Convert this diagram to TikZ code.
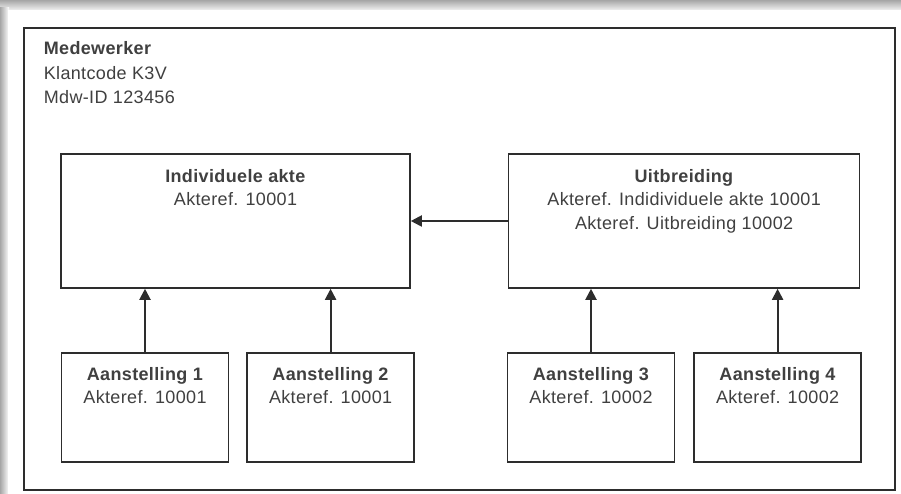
\documentclass[tikz,border=0pt]{standalone}
\usepackage{fontspec}
\setmainfont{Liberation Sans}[LetterSpace=2]
\usepackage{tikz}
\usetikzlibrary{positioning}
\usetikzlibrary{arrows.meta}
\definecolor{txtgray}{RGB}{64,64,64}
\definecolor{linegray}{RGB}{45,45,45}

\begin{document}
\begin{tikzpicture}[
            x=1pt, y=1pt,
            > = {Triangle[length=11pt,width=11pt]}, % arrow head style
            line width=1.6pt,
            every node/.style={text=txtgray, font=\fontsize{18}{23.5}\selectfont}
        ]

        \tikzstyle{box}=[
            draw = linegray,
            fill = white,
            inner sep = 0pt
        ]
        \tikzstyle{boxtext}=[
            align = center,
            inner sep = 0pt,
            anchor = north
        ]

        % page with the shadow of the screenshot
        \useasboundingbox (0,0) rectangle (901,494);
        \shade[top color=black!35, bottom color=white] (0,494) rectangle (901,482);
        \shade[left color=black!35, right color=white] (0,0) rectangle (9,486);
        \fill[white] (8,0) rectangle (901,484);

        \node[box, minimum width=871pt, minimum height=462pt] (MW) at (459.5,235) {};
        \node[anchor=north west, align=left, inner sep=0pt,
              font=\fontsize{18}{24.5}\selectfont] (MWtxt) at (43,453)
            {\textbf{Medewerker}\\Klantcode K3V\\Mdw-ID 123456};

       \node[box, minimum width=349pt, minimum height=134pt] (IA) at (235.5,273) {};
       \node[box, minimum width=351pt, minimum height=134pt] (UB) [right=97pt of IA] {};

       \node[box, minimum width=167pt, minimum height=109pt] (A1) at (145,86.5) {};
       \node[box, minimum width=167pt, minimum height=109pt] (A2) [right=17pt of A1] {};
       \node[box, minimum width=167pt, minimum height=109pt] (A3) at (591,86.5) {};
       \node[box, minimum width=167pt, minimum height=109pt] (A4) [right=18pt of A3] {};

       \node[boxtext] (IAtxt) [below=15pt of IA.north] {\textbf{Individuele akte}\\Akteref. 10001};
       \node[boxtext] (UBtxt) [below=15pt of UB.north] {\textbf{Uitbreiding}\\Akteref. Indidividuele akte 10001\\Akteref. Uitbreiding 10002};
       \node[boxtext] (A1txt) [below=14pt of A1.north] {\textbf{Aanstelling 1}\\Akteref. 10001};
       \node[boxtext] (A2txt) [below=14pt of A2.north] {\textbf{Aanstelling 2}\\Akteref. 10001};
       \node[boxtext] (A3txt) [below=14pt of A3.north] {\textbf{Aanstelling 3}\\Akteref. 10002};
       \node[boxtext] (A4txt) [below=14pt of A4.north] {\textbf{Aanstelling 4}\\Akteref. 10002};

	\draw[->, linegray, line width=2pt]	(UB.west) -- (IA.east);
	\draw[->, linegray, line width=2pt]	(A1.north) -- (A1.north |- IA.south);
	\draw[->, linegray, line width=2pt]	(A2.north) -- (A2.north |- IA.south);
	\draw[->, linegray, line width=2pt]	(A3.north) -- (A3.north |- UB.south);
	\draw[->, linegray, line width=2pt]	(A4.north) -- (A4.north |- UB.south);

  \end{tikzpicture}
\end{document}
